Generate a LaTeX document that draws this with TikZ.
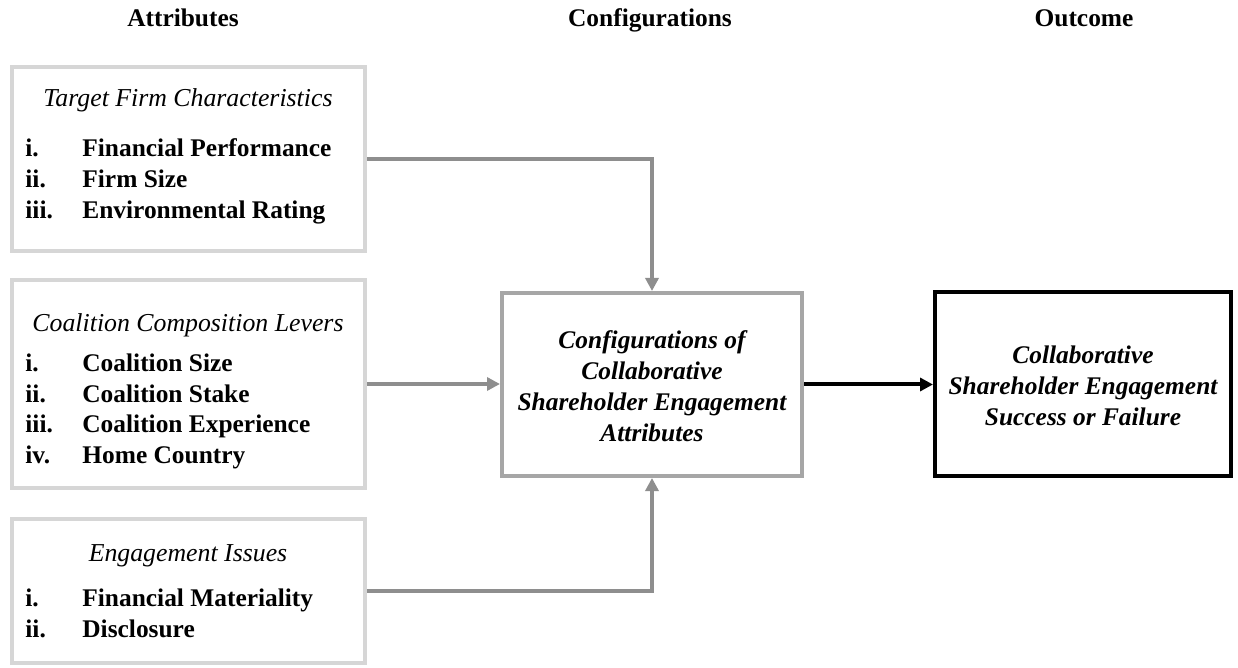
\documentclass[tikz,border=0pt]{standalone}
\usepackage{fontspec}
\setmainfont{Liberation Serif}
\usetikzlibrary{arrows.meta}
\definecolor{lightbd}{HTML}{D6D6D6}
\definecolor{midbd}{HTML}{A6A6A6}
\definecolor{arrowgray}{HTML}{8E8E8E}
\begin{document}
\begin{tikzpicture}[x=0.5pt,y=-0.5pt,
  every node/.style={font=\fontsize{12.7}{15.5}\selectfont, inner sep=0pt},
  lbox/.style={draw=lightbd, line width=2pt, minimum width=176.5pt, fill=white},
  midbox/.style={draw=midbd, line width=2pt, minimum width=150pt, minimum height=91.5pt},
  outbox/.style={draw=black, line width=2pt, minimum width=148pt, minimum height=92pt},
  hdr/.style={font=\fontsize{12.7}{15.5}\selectfont\bfseries, anchor=mid},
  ttl/.style={font=\fontsize{12.9}{15.5}\selectfont\itshape, anchor=mid},
  itm/.style={font=\fontsize{12.7}{15.5}\selectfont\bfseries, anchor=mid west},
  ctext/.style={font=\fontsize{12.7}{15.5}\selectfont\bfseries\itshape, align=center},
  garrow/.style={draw=arrowgray, line width=2pt, -{Triangle[length=6.5pt,width=6.5pt]}},
  barrow/.style={draw=black, line width=2pt, -{Triangle[length=6.5pt,width=6.5pt]}}
]
\useasboundingbox (0,0) rectangle (1238,668);

% headers
\node[hdr] (h1) at (183,22) {Attributes};
\node[hdr] (h2) at (650,22) {Configurations};
\node[hdr] (h3) at (1084,22) {Outcome};

% left boxes
\node[lbox, minimum height=92pt] (b1) at (188.5,159) {};
\node[lbox, minimum height=104pt] (b2) at (188.5,384) {};
\node[lbox, minimum height=72pt] (b3) at (188.5,591) {};

\node[ttl] (t1) at (188,102) {Target Firm Characteristics};
\foreach \n/\t [count=\k] in {i./Financial Performance, ii./Firm Size, iii./Environmental Rating}{
  \node[itm] (n1\k) at (25,{152+31*(\k-1)}) {\n};
  \node[itm] (i1\k) at (82,{152+31*(\k-1)}) {\t};
}

\node[ttl] (t2) at (188,327) {Coalition Composition Levers};
\foreach \n/\t [count=\k] in {i./Coalition Size, ii./Coalition Stake, iii./Coalition Experience, iv./Home Country}{
  \node[itm] (n2\k) at (25,{367+30.5*(\k-1)}) {\n};
  \node[itm] (i2\k) at (82,{367+30.5*(\k-1)}) {\t};
}

\node[ttl] (t3) at (188,557) {Engagement Issues};
\foreach \n/\t [count=\k] in {i./Financial Materiality, ii./Disclosure}{
  \node[itm] (n3\k) at (25,{602+31*(\k-1)}) {\n};
  \node[itm] (i3\k) at (82,{602+31*(\k-1)}) {\t};
}

% middle box
\node[midbox] (mid) at (652,384.5) {};
\node[ctext] (mt) at (652,386) {Configurations of\\Collaborative\\Shareholder Engagement\\Attributes};

% outcome box
\node[outbox] (out) at (1083,384) {};
\node[ctext] (ot) at (1083,386) {Collaborative\\Shareholder Engagement\\Success or Failure};

% connectors
\draw[garrow] (b1.east) -| (mid.north);
\draw[garrow] (b2.east) -- (b2.east -| mid.west);
\draw[garrow] (b3.east) -| (mid.south);
\draw[barrow] (mid.east) -- (mid.east -| out.west);
\end{tikzpicture}
\end{document}
